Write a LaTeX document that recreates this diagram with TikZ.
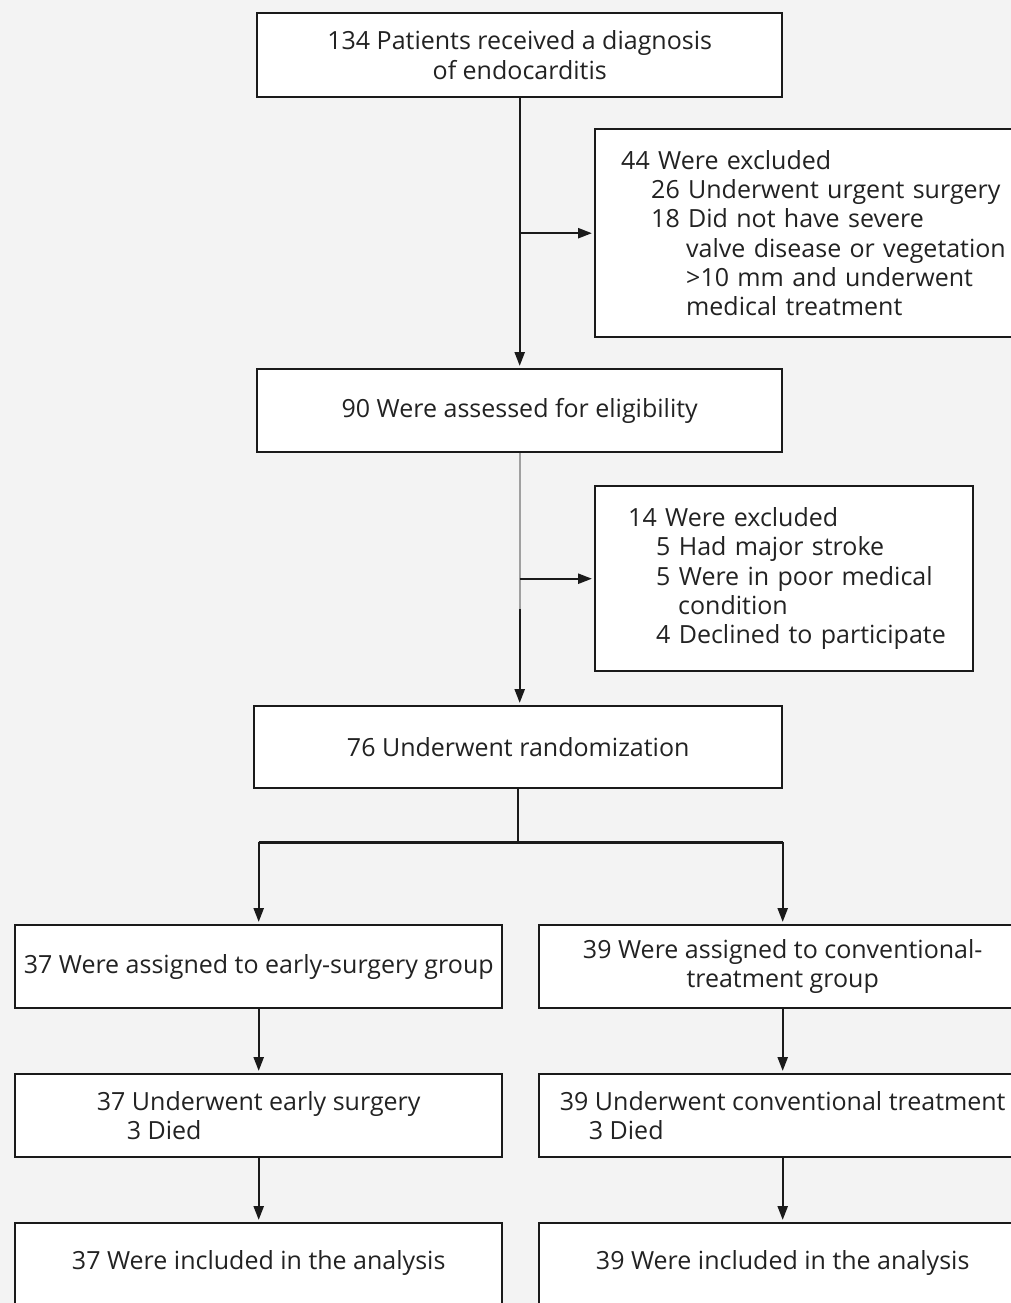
\documentclass[tikz,border=0pt]{standalone}
\usepackage{fontspec}
\setmainfont{Open Sans}
\usetikzlibrary{arrows.meta,calc}
\definecolor{bg}{HTML}{F3F3F3}
\definecolor{ln}{HTML}{1A1A1A}
\definecolor{tx}{HTML}{222222}
\definecolor{gl}{HTML}{A0A0A0}
\begin{document}
\begin{tikzpicture}[x=1pt,y=-1pt,
  box/.style={draw=ln,line width=2.4pt,fill=white,inner sep=0pt,anchor=north west,text=tx,
    font=\fontsize{25}{29.3}\selectfont},
  arr/.style={draw=ln,line width=2.4pt,-{Triangle[length=14pt,width=10pt]},shorten >=2pt},
  conn/.style={draw=ln,line width=2.4pt}]
\fill[bg] (0,0) rectangle (1011,1303);
\useasboundingbox (0,0) rectangle (1011,1303);
\clip (0,0) rectangle (1011,1303);

\node[box,minimum width=525pt,minimum height=84pt,align=center] (b1) at (256,12)
  {134 Patients received a diagnosis\\of endocarditis};
\node[box,minimum height=208pt,inner xsep=26pt,text width=480pt,align=left] (b44) at (594,128)
  {44 Were excluded\\
   \hspace*{30pt}26 Underwent urgent surgery\\
   \hspace*{30pt}18 Did not have severe\\
   \hspace*{65pt}valve disease or vegetation\\
   \hspace*{65pt}>10 mm and underwent\\
   \hspace*{65pt}medical treatment};
\node[box,minimum width=525pt,minimum height=83pt,align=center] (b90) at (256,368)
  {90 Were assessed for eligibility};
\node[box,minimum width=378pt,minimum height=185pt,inner xsep=16pt,text width=346pt,align=left] (b14) at (594,485)
  {\hspace*{17pt}14 Were excluded\\
   \hspace*{45pt}5 Had major stroke\\
   \hspace*{45pt}5 Were in poor medical\\
   \hspace*{67pt}condition\\
   \hspace*{45pt}4 Declined to participate};
\node[box,minimum width=528pt,minimum height=82pt,align=center] (b76) at (253,705)
  {76 Underwent randomization};
\node[box,minimum width=487pt,minimum height=83pt,align=center] (e1) at (14,924)
  {37 Were assigned to early-surgery group};
\node[box,minimum width=487pt,minimum height=83pt,align=center] (c1) at (538,924)
  {39 Were assigned to conventional-\\treatment group};
\node[box,minimum width=487pt,minimum height=83pt,align=left] (e2) at (14,1073)
  {37 Underwent early surgery\\\hspace*{30pt}3 Died};
\node[box,minimum width=487pt,minimum height=83pt,align=left] (c2) at (538,1073)
  {39 Underwent conventional treatment\\\hspace*{29pt}3 Died};
\node[box,minimum width=487pt,minimum height=84pt,align=center,text depth=10pt] (e3) at (14,1222)
  {37 Were included in the analysis};
\node[box,minimum width=487pt,minimum height=84pt,align=center,text depth=10pt] (c3) at (538,1222)
  {39 Were included in the analysis};

% main flow
\draw[arr] (b1.south) -- (b90.north);
\draw[arr] (b44.west -| b1.south) -- (b44.west);
\coordinate (g) at ($(b90.south)+(0,156)$);
\draw[draw=gl,line width=2.4pt] (b90.south) -- (g);
\draw[arr] (g) -- (b90.south |- b76.north);
\draw[arr] (b14.west -| b90.south) -- (b14.west);
\coordinate (split) at ($(b76.south)+(0,53)$);
\draw[conn] (b76.south) -- (split);
\coordinate (sl) at (split -| e1.north);
\coordinate (sr) at (split -| c1.north);
\draw[conn] (sl) -- (sr);
\draw[arr] (sl) -- (e1.north);
\draw[arr] (sr) -- (c1.north);
\draw[arr] (e1.south) -- (e2.north);
\draw[arr] (c1.south) -- (c2.north);
\draw[arr] (e2.south) -- (e3.north);
\draw[arr] (c2.south) -- (c3.north);
\end{tikzpicture}
\end{document}
